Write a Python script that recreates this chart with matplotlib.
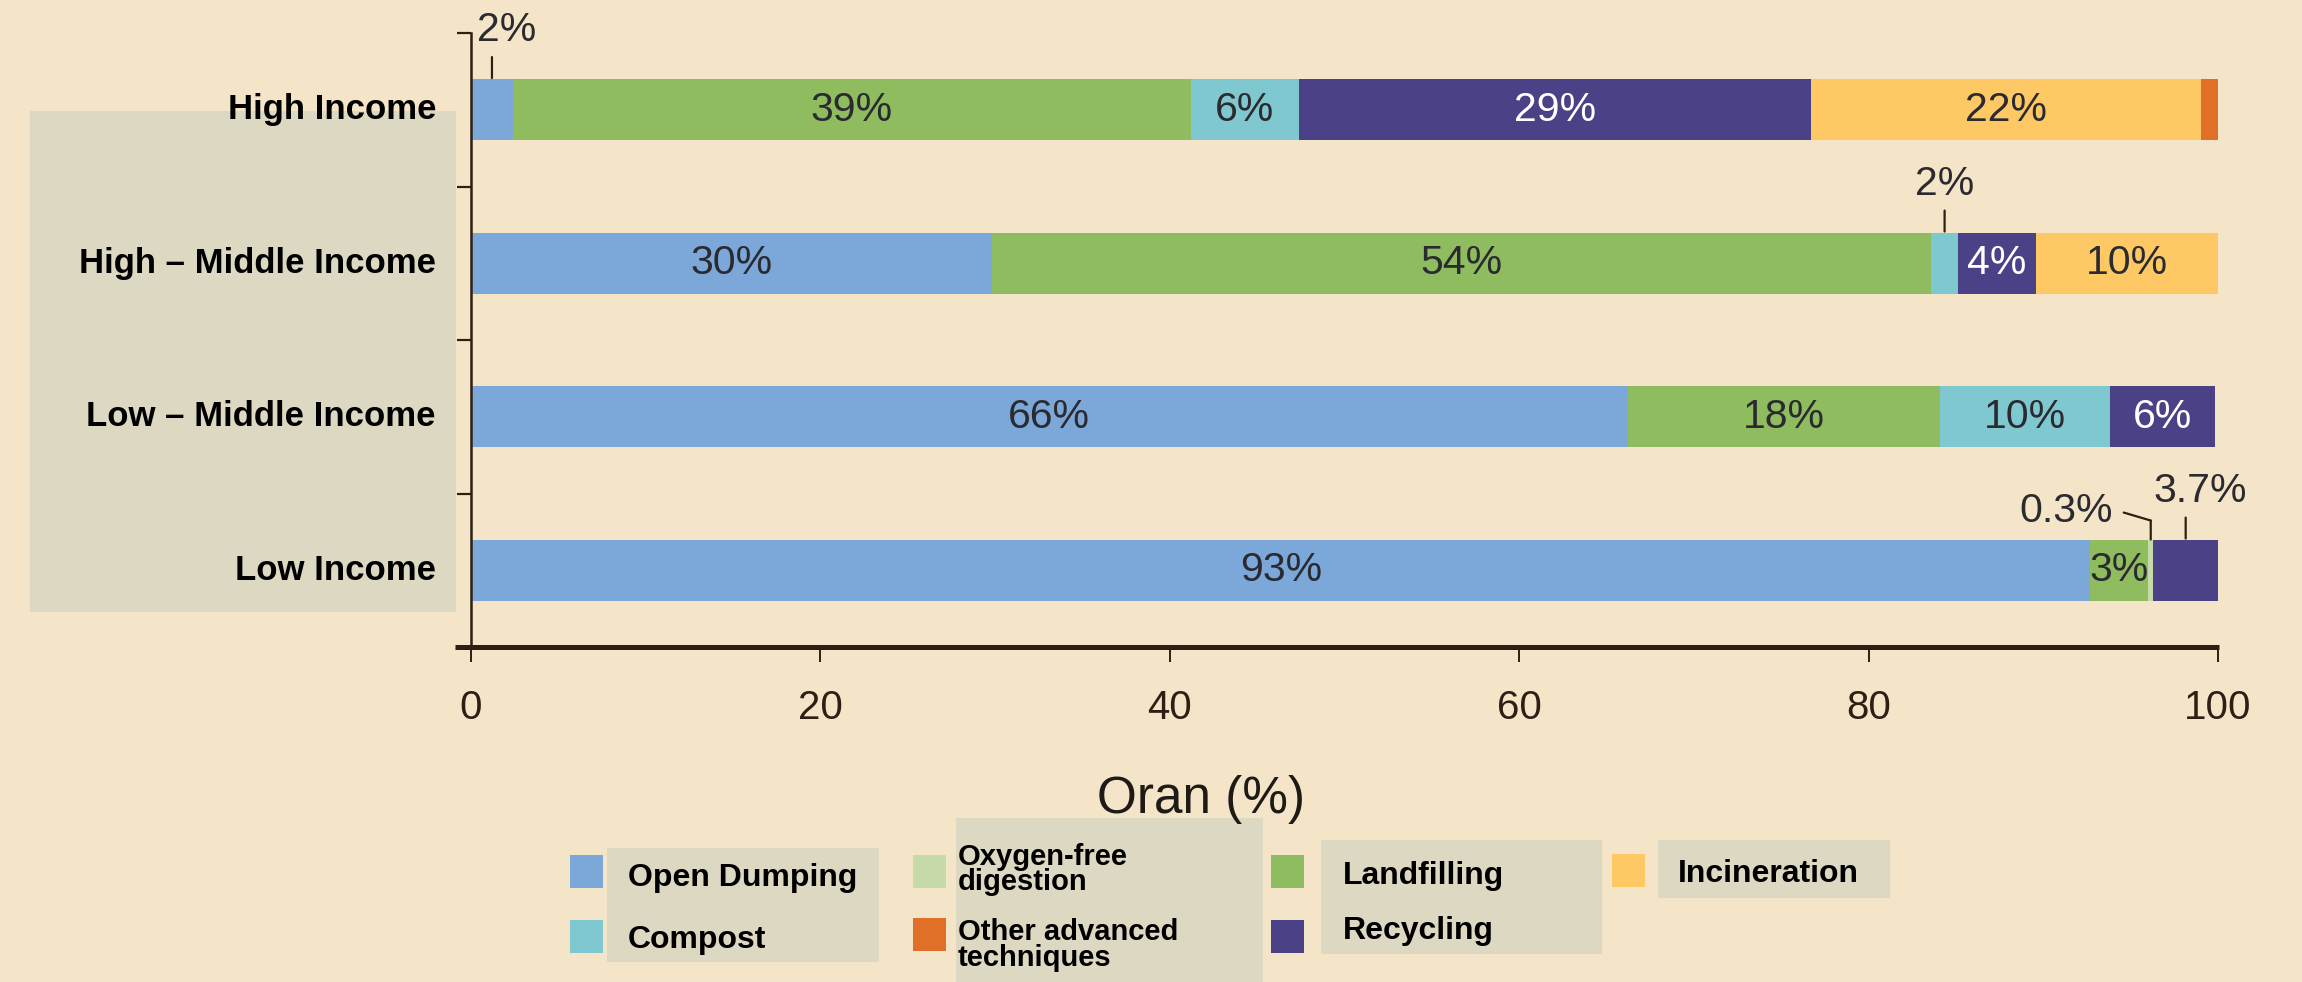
import matplotlib
matplotlib.use("Agg")
import matplotlib.pyplot as plt
from matplotlib.patches import Rectangle
from matplotlib.lines import Line2D
from matplotlib.transforms import offset_copy, blended_transform_factory

# ---------------- data ----------------
categories = ["High Income", "High – Middle Income", "Low – Middle Income", "Low Income"]
series = ["Open Dumping", "Landfilling", "Oxygen-free digestion", "Compost",
          "Recycling", "Incineration", "Other advanced techniques"]
open_dumping = [2.4, 29.8, 66.2, 92.7]
landfilling = [38.8, 53.8, 17.9, 3.3]
oxygen_free = [0.0, 0.0, 0.0, 0.3]
compost = [6.2, 1.5, 9.7, 0.0]
recycling = [29.3, 4.5, 6.0, 3.7]
incineration = [22.3, 10.4, 0.0, 0.0]
other_advanced = [1.0, 0.0, 0.0, 0.0]
values = [open_dumping, landfilling, oxygen_free, compost, recycling, incineration, other_advanced]

colors = ["#7ba7d9", "#8fbc5f", "#c6dba9", "#80c8cf", "#4b4186", "#fec964", "#e06f27"]

# labels inside bars (None = no label)
inbar_labels = [
    [None, "30%", "66%", "93%"],
    ["39%", "54%", "18%", "3%"],
    [None, None, None, None],
    ["6%", None, "10%", None],
    ["29%", "4%", "6%", None],
    ["22%", "10%", None, None],
    [None, None, None, None],
]
# labels outside bars with leader lines: (series index, category index, text)
outside_labels = [(0, 0, "2%"), (3, 1, "2%"), (2, 3, "0.3%"), (4, 3, "3.7%")]

x_ticks = [0, 20, 40, 60, 80, 100]
x_label = "Oran (%)"

legend_order = ["Open Dumping", "Compost", "Oxygen-free digestion", "Other advanced techniques",
                "Landfilling", "Recycling", "Incineration"]

# ---------------- style ----------------
W, H = 2302, 982
BG = "#f5e5c8"
BOX = "#ddd8c1"
AX = "#2d1f14"
TXT = "#2a2a30"
FONT = "Liberation Sans"
plt.rcParams["font.family"] = [FONT, "DejaVu Sans"]

fig = plt.figure(figsize=(W / 100, H / 100), dpi=100, facecolor=BG)


def fx(px):
    return px / W


def fy(py):
    return 1 - py / H


ax = fig.add_axes([fx(471), fy(647), fx(2218) - fx(471), (647 - 33) / H])
ax.set_facecolor(BG)

ypos = list(range(len(categories)))
bar_h = 0.40
lefts = [0.0] * len(categories)
seg_centers = []
for si, vals in enumerate(values):
    ax.barh(ypos, vals, left=lefts, height=bar_h, color=colors[si], edgecolor="none", zorder=2)
    seg_centers.append([l + v / 2 for l, v in zip(lefts, vals)])
    for ci, lab in enumerate(inbar_labels[si]):
        if lab:
            col = "white" if series[si] == "Recycling" else TXT
            ax.text(lefts[ci] + vals[ci] / 2, ci, lab, ha="center", va="center",
                    fontsize=29.5, color=col, zorder=3)
    lefts = [l + v for l, v in zip(lefts, vals)]

ax.set_xlim(0, 100)
ax.set_ylim(len(categories) - 0.5, -0.5)
ax.set_xticks(x_ticks)
ax.set_xticklabels([str(t) for t in x_ticks], fontsize=29, color=AX)
ax.set_yticks([-0.5, 0.5, 1.5, 2.5])
ax.set_yticklabels([])
ax.tick_params(axis="x", direction="out", length=11, width=1.4, color=AX, pad=19)
ax.tick_params(axis="y", direction="out", length=10, width=1.6, color=AX)
for s in ["top", "right"]:
    ax.spines[s].set_visible(False)
ax.spines["left"].set_color(AX)
ax.spines["left"].set_linewidth(1.8)
ax.spines["bottom"].set_visible(False)
fig.add_artist(Line2D([fx(455), fx(2219)], [fy(647), fy(647)], color=AX, lw=3.6,
                      solid_capstyle="butt"))

# outside labels with leader lines
PT = 0.72  # points per pixel at dpi 100


def seg_line(x, y, dx0, dy0, dx1, dy1):
    t0 = offset_copy(ax.transData, fig=fig, x=dx0, y=dy0, units="dots")
    ax.annotate("", xy=(x, y), xycoords=t0, xytext=((dx1 - dx0) * PT, (dy1 - dy0) * PT),
                textcoords="offset points",
                arrowprops=dict(arrowstyle="-", color=AX, lw=1.6, shrinkA=0, shrinkB=0),
                annotation_clip=False)


for si, ci, lab in outside_labels:
    xc = seg_centers[si][ci]
    ytop = ci - bar_h / 2
    if lab == "0.3%":
        xb = xc
        seg_line(xb, ytop, 0, 0, 0, 19)
        seg_line(xb, ytop, 0, 19, -27, 27)
        ax.annotate(lab, xy=(xb, ytop), xytext=(-85 * PT, 29 * PT), textcoords="offset points",
                    ha="center", va="center", fontsize=29.5, color=TXT, annotation_clip=False)
    else:
        seg_line(xc, ytop, 0, 1, 0, 22)
        dx = 15 if ci in (0, 3) else 0
        ax.annotate(lab, xy=(xc, ytop), xytext=(dx * PT, 49 * PT), textcoords="offset points",
                    ha="center", va="center", fontsize=29.5, color=TXT, annotation_clip=False)

# category label box + labels
fig.add_artist(Rectangle((fx(30), fy(612)), fx(456) - fx(30), (612 - 111) / H,
                         transform=fig.transFigure, facecolor=BOX, edgecolor="none", zorder=0))
bt = blended_transform_factory(fig.transFigure, ax.transData)
for ci, cat in enumerate(categories):
    ax.text(fx(436), ci, cat, transform=bt, ha="right", va="center", fontsize=25,
            fontweight="bold", color="black", clip_on=False)

# x label
fig.text(fx(1201), fy(800), x_label, ha="center", va="center", fontsize=37, color="#1e1a16")

# legend (custom layout)
for (x0, y0, x1, y1) in [(607, 848, 879, 962), (956, 818, 1263, 982),
                         (1321, 840, 1602, 954), (1658, 840, 1890, 898)]:
    fig.add_artist(Rectangle((fx(x0), fy(y1)), fx(x1) - fx(x0), (y1 - y0) / H,
                             transform=fig.transFigure, facecolor=BOX, edgecolor="none", zorder=0))

leg_layout = {
    "Open Dumping": ((570, 855), (628, [886]), ["Open Dumping"], 23),
    "Compost": ((570, 920), (628, [948]), ["Compost"], 23),
    "Oxygen-free digestion": ((913, 855), (958, [865, 890]), ["Oxygen-free", "digestion"], 21),
    "Other advanced techniques": ((913, 918), (958, [940, 966]), ["Other advanced", "techniques"], 21),
    "Landfilling": ((1271, 855), (1343, [884]), ["Landfilling"], 23),
    "Recycling": ((1271, 920), (1343, [939]), ["Recycling"], 23),
    "Incineration": ((1612, 854), (1678, [882]), ["Incineration"], 23),
}
for name in legend_order:
    (px, py), (tx, tys), lines, fs = leg_layout[name]
    col = colors[series.index(name)]
    fig.add_artist(Rectangle((fx(px), fy(py + 33)), 33 / W, 33 / H, transform=fig.transFigure,
                             facecolor=col, edgecolor="none"))
    for ln, ty in zip(lines, tys):
        fig.text(fx(tx), fy(ty), ln, ha="left", va="baseline", fontsize=fs,
                 fontweight="bold", color="black")

fig.savefig("out.png", dpi=100, facecolor=BG)
